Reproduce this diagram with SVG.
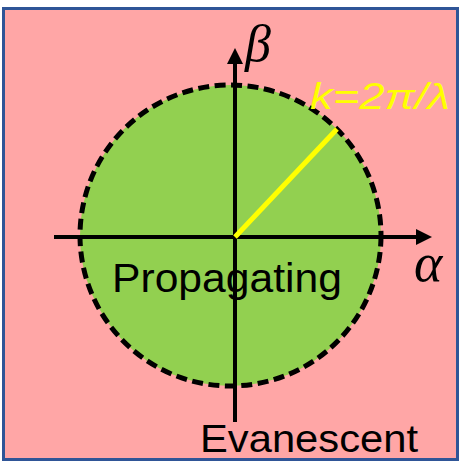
<svg xmlns="http://www.w3.org/2000/svg" width="461" height="461" viewBox="0 0 461 461">
<style>
.axis{stroke:#000;stroke-width:4;fill:none}
.lbl{font-family:"Liberation Sans",Arial,sans-serif;fill:#000}
.math{font-family:"Liberation Serif","Times New Roman",serif;font-style:italic;fill:#000}
</style>
<defs>
<marker id="arr" viewBox="0 0 16 16" refX="2" refY="8" markerWidth="16" markerHeight="16" markerUnits="userSpaceOnUse" orient="auto">
<path d="M0,0 L16,8 L0,16 Z" fill="#000"/>
</marker>
</defs>
<g id="background">
<rect x="3.5" y="8.5" width="454" height="451" fill="#FFA6A6" stroke="#2F5597" stroke-width="3"/>
</g>
<g id="propagating-region">
<circle cx="230.5" cy="235.5" r="150.5" fill="#92D050" stroke="#000" stroke-width="5" stroke-dasharray="11 5.5"/>
</g>
<g id="connectors">
<line class="axis" x1="54" y1="237" x2="418" y2="237" marker-end="url(#arr)"/>
<line class="axis" x1="235" y1="422" x2="235" y2="62" marker-end="url(#arr)"/>
<line x1="235" y1="237" x2="337" y2="129" stroke="#FFFF00" stroke-width="5"/>
</g>
<g id="labels">
<text class="math" x="245" y="61" font-size="52">β</text>
<text class="math" x="414" y="281" font-size="54">α</text>
<text x="310" y="109" font-family="Liberation Sans,Arial,sans-serif" font-style="italic" font-size="36" fill="#FFFF00" textLength="140" lengthAdjust="spacingAndGlyphs">k=2π/λ</text>
<text class="lbl" x="112" y="292" font-size="41" textLength="230" lengthAdjust="spacingAndGlyphs">Propagating</text>
<text class="lbl" x="200" y="452" font-size="39" textLength="218" lengthAdjust="spacingAndGlyphs">Evanescent</text>
</g>
</svg>
